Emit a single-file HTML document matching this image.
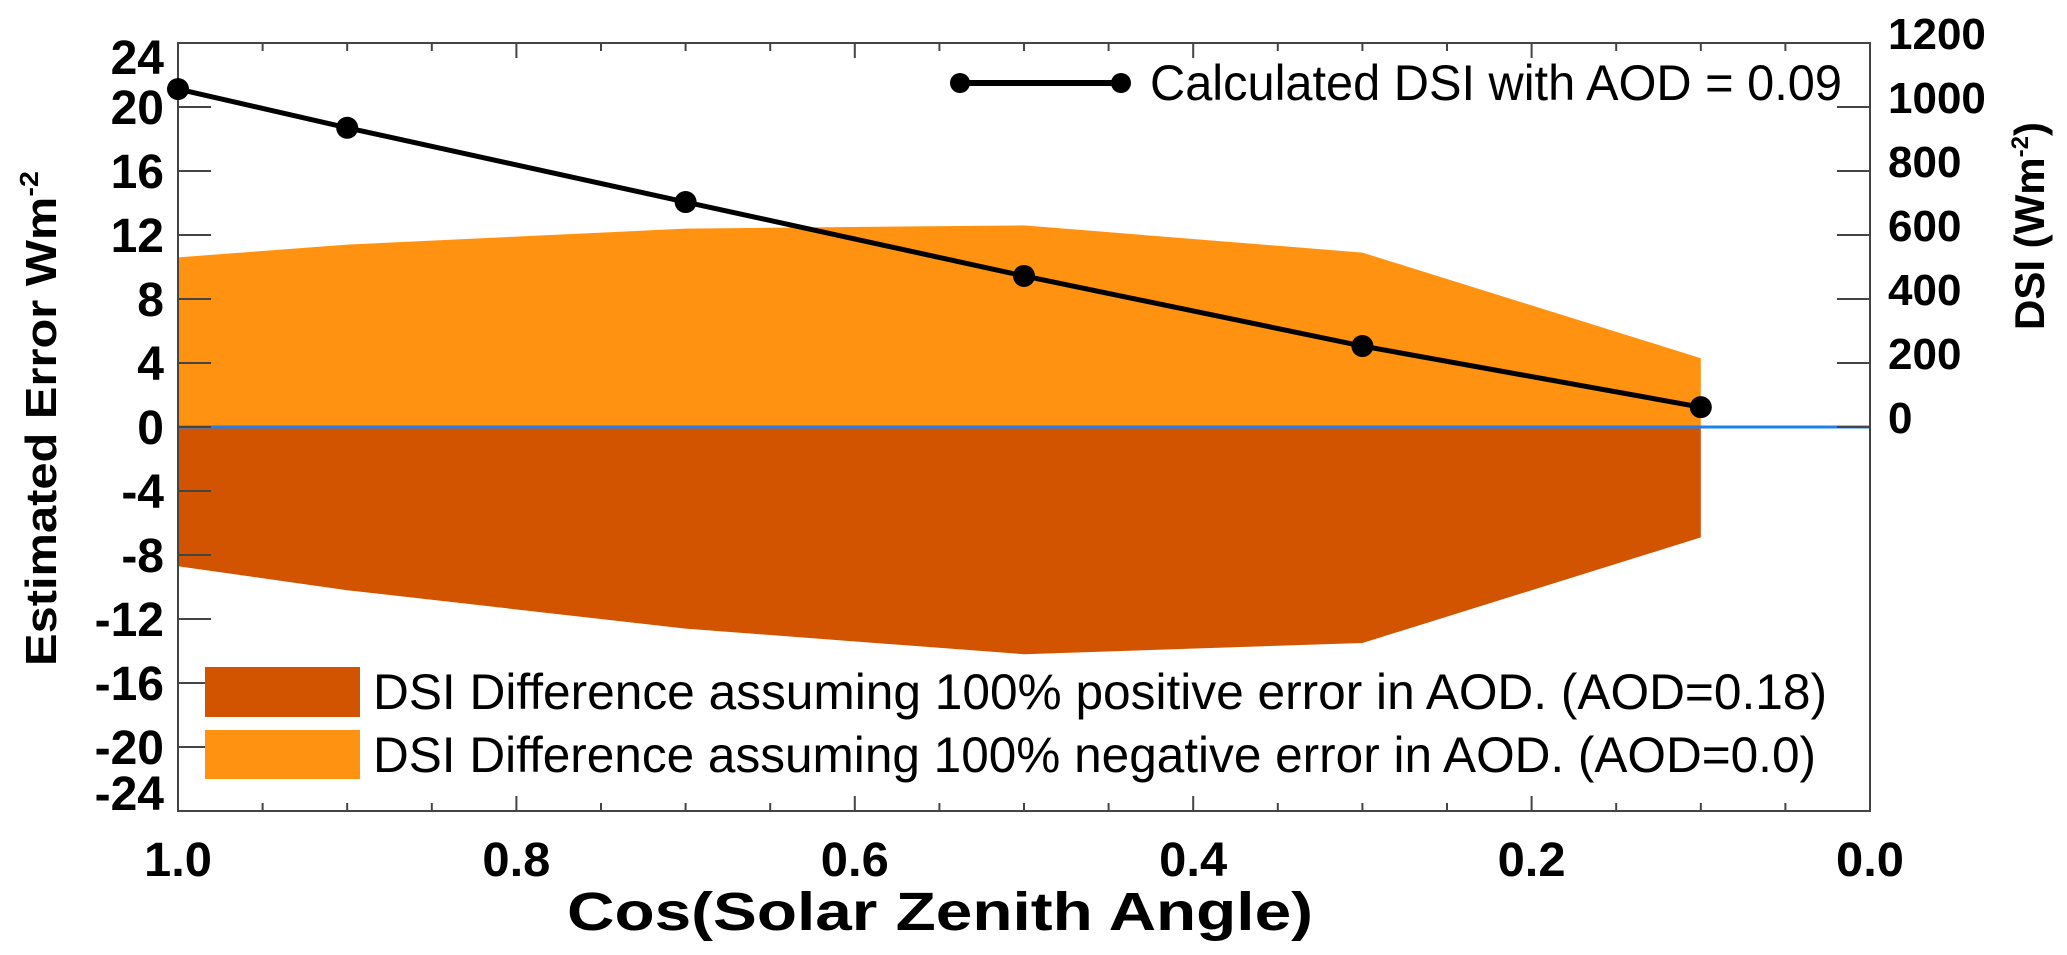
<!DOCTYPE html>
<html><head><meta charset="utf-8"><style>
html,body{margin:0;padding:0;background:#fff;}
svg{display:block;font-family:"Liberation Sans",sans-serif;}
</style></head><body>
<svg id="chart" width="2067" height="955" viewBox="0 0 2067 955">
<g id="fills"></g>
<g id="axes"></g>
<g id="series"></g>
<g id="legend"></g>
</svg>
<script>
const xs = [1.0, 0.9, 0.7, 0.5, 0.3, 0.1];
const upperErr = [10.6, 11.4, 12.4, 12.6, 10.9, 4.3];
const lowerErr = [-8.7, -10.2, -12.6, -14.2, -13.5, -6.9];
const dsiValues = [1056, 935, 703, 472, 253, 62];
const yTicks = [24, 20, 16, 12, 8, 4, 0, -4, -8, -12, -16, -20, -24];
const yTickLabels = ["24","20","16","12","8","4","0","-4","-8","-12","-16","-20","-24"];
const dsiTicks = [1200, 1000, 800, 600, 400, 200, 0];
const dsiTickLabels = ["1200","1000","800","600","400","200","0"];
const xTicks = [1.0, 0.8, 0.6, 0.4, 0.2, 0.0];
const xTickLabels = ["1.0","0.8","0.6","0.4","0.2","0.0"];

const L=178,R=1870,T=43,B=811;
const sx=v=>L+(1-v)*(R-L);
const sy=v=>427-v*16;
const sd=v=>427-v*16/50;
const NS="http://www.w3.org/2000/svg";
function mk(tag,attrs,parent,txt){const e=document.createElementNS(NS,tag);for(const k in attrs)e.setAttribute(k,attrs[k]);if(txt!==undefined)e.textContent=txt;document.getElementById(parent).appendChild(e);return e;}

let up=xs.map((x,i)=>sx(x)+","+sy(upperErr[i])).join(" ")+" "+sx(xs[xs.length-1])+","+sy(0)+" "+sx(xs[0])+","+sy(0);
let a=mk("polygon",{points:up,fill:"#FF9211"},"fills");


let lo=xs.map((x,i)=>sx(x)+","+sy(lowerErr[i])).join(" ")+" "+sx(xs[xs.length-1])+","+sy(0)+" "+sx(xs[0])+","+sy(0);
let b=mk("polygon",{points:lo,fill:"#D35400"},"fills");


let z=mk("line",{x1:L,x2:R,y1:sy(0),y2:sy(0),stroke:"#1E7FF0","stroke-width":3},"fills");



let f=mk("rect",{x:L,y:T,width:R-L,height:B-T,fill:"none",stroke:"#444","stroke-width":2},"axes");


for(let i=0;i<=20;i++){const x=L+i*(R-L)/20;const len=(i%4===0)?15:8;
 mk("line",{x1:x,x2:x,y1:B,y2:B-len,stroke:"#444","stroke-width":2},"axes");
 mk("line",{x1:x,x2:x,y1:T,y2:T+len,stroke:"#444","stroke-width":2},"axes");}
yTicks.forEach((v,i)=>{const y=sy(v);
 mk("line",{x1:L,x2:L+33,y1:y,y2:y,stroke:"#444","stroke-width":2},"axes");
 let ly=y; if(v===24) ly=y+14; if(v===-24) ly=y-18;
 let t=mk("text",{x:164,y:ly+17,"text-anchor":"end","font-size":48,"font-weight":"bold",fill:"#000"},"axes",yTickLabels[i]);
 
 });
dsiTicks.forEach((v,i)=>{const y=sd(v);
 if(v<1200) mk("line",{x1:R-33,x2:R,y1:y,y2:y,stroke:"#444","stroke-width":2},"axes");
 let t=mk("text",{x:1888,y:y-10+16,"font-size":44,"font-weight":"bold",fill:"#000"},"axes",dsiTickLabels[i]);
 
 });
xTicks.forEach((v,i)=>{let t=mk("text",{x:sx(v),y:876,"text-anchor":"middle","font-size":48,"font-weight":"bold",fill:"#000",textLength:68,lengthAdjust:"spacingAndGlyphs"},"axes",xTickLabels[i]);
 
 });
let xt=mk("text",{x:567,y:930,"font-size":54,"font-weight":"bold",fill:"#000",textLength:746,lengthAdjust:"spacingAndGlyphs"},"axes","Cos(Solar Zenith Angle)");


let yt=mk("text",{transform:"translate(56,666) rotate(-90)","font-size":44,"font-weight":"bold",fill:"#000",textLength:495,lengthAdjust:"spacingAndGlyphs"},"axes","");
yt.innerHTML='Estimated Error Wm<tspan dy="-18" font-size="26">-2</tspan>';


let rt=mk("text",{transform:"translate(2044,330) rotate(-90)","font-size":42,"font-weight":"bold",fill:"#000"},"axes","");
rt.innerHTML='DSI (Wm<tspan dy="-16" font-size="24">-2</tspan><tspan dy="16">)</tspan>';



let pts=xs.map((x,i)=>sx(x)+","+sd(dsiValues[i])).join(" ");
let pl=mk("polyline",{points:pts,fill:"none",stroke:"#000","stroke-width":5},"series");


xs.forEach((x,i)=>{let c=mk("circle",{cx:sx(x),cy:sd(dsiValues[i]),r:11,fill:"#000"},"series");
 
 });

let ll=mk("line",{x1:960,x2:1121,y1:83,y2:83,stroke:"#000","stroke-width":6},"legend");


mk("circle",{cx:960,cy:83,r:10,fill:"#000"},"legend");
mk("circle",{cx:1121,cy:83,r:10,fill:"#000"},"legend");
let lt=mk("text",{x:1150,y:100,"font-size":50,fill:"#000",textLength:692,lengthAdjust:"spacingAndGlyphs"},"legend","Calculated DSI with AOD = 0.09");


let r1=mk("rect",{x:205,y:667,width:155,height:50,fill:"#D35400"},"legend");


let t1=mk("text",{x:373,y:709,"font-size":50,fill:"#000",textLength:1454,lengthAdjust:"spacingAndGlyphs"},"legend","DSI Difference  assuming 100% positive error in AOD. (AOD=0.18)");


let r2=mk("rect",{x:205,y:730,width:155,height:49,fill:"#FF9211"},"legend");


let t2=mk("text",{x:373,y:772,"font-size":50,fill:"#000",textLength:1443,lengthAdjust:"spacingAndGlyphs"},"legend","DSI Difference  assuming 100% negative error in AOD. (AOD=0.0)");


</script>
</body></html>
